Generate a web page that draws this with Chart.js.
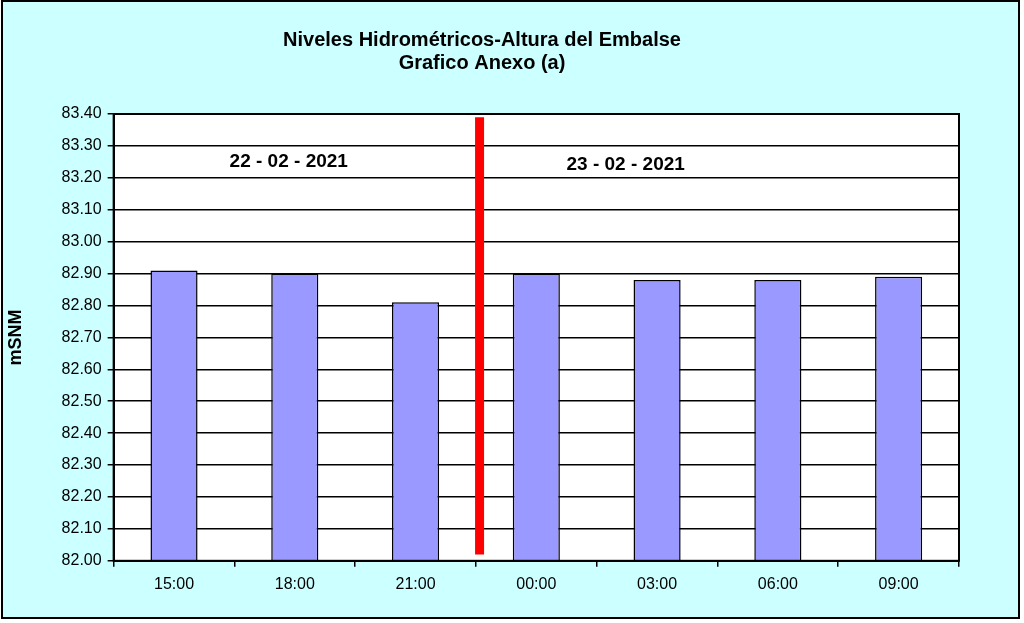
<!DOCTYPE html>
<html>
<head>
<meta charset="utf-8">
<script src="https://cdn.jsdelivr.net/npm/chart.js@4/dist/chart.umd.min.js"></script>
<style>
  body { margin: 0; background: #fff; }
  #box { position: absolute; left: 1px; top: 0; width: 1015px; height: 615px; border: 2px solid #000; background: #ccffff; }
  canvas { display: block; }
</style>
</head>
<body>
<div id="box"><canvas id="myChart" width="1015" height="615"></canvas></div>
<script>
let horas = ["15:00", "18:00", "21:00", "00:00", "03:00", "06:00", "09:00"];
let niveles = [82.91, 82.90, 82.81, 82.90, 82.88, 82.88, 82.89];
let fechas = ["22 - 02 - 2021", "23 - 02 - 2021"];
// where each date label sits, in chart values (category index, level)
let fechaPosX = [0.95, 3.74];
let fechaPosY = [83.25, 83.24];
let corte = 2.53; // red line between 21:00 and 00:00
let corteDesde = 83.39, corteHasta = 82.02;

let fuente = 'Arial, "Liberation Sans", sans-serif';

let marco = {
  id: 'marco',
  beforeDraw(chart) {
    let a = chart.chartArea, ctx = chart.ctx;
    ctx.save();
    ctx.fillStyle = '#fff';
    ctx.fillRect(a.left, a.top, a.right - a.left, a.bottom - a.top);
    ctx.restore();
  },
  afterDraw(chart) {
    let a = chart.chartArea, ctx = chart.ctx;
    let x = chart.scales.x, y = chart.scales.y;
    ctx.save();
    ctx.strokeStyle = '#000';
    ctx.lineWidth = 2;
    ctx.strokeRect(a.left, a.top, a.right - a.left, a.bottom - a.top);

    ctx.strokeStyle = '#ff0000';
    ctx.lineWidth = 9;
    ctx.beginPath();
    ctx.moveTo(x.getPixelForValue(corte), y.getPixelForValue(corteDesde));
    ctx.lineTo(x.getPixelForValue(corte), y.getPixelForValue(corteHasta));
    ctx.stroke();

    ctx.fillStyle = '#000';
    ctx.font = 'bold 19px ' + fuente;
    ctx.textAlign = 'center';
    ctx.textBaseline = 'middle';
    for (let i = 0; i < fechas.length; i++) {
      ctx.fillText(fechas[i], x.getPixelForValue(fechaPosX[i]), y.getPixelForValue(fechaPosY[i]));
    }
    ctx.restore();
  }
};

let ctx = document.getElementById("myChart").getContext('2d');
/*global Chart*/
let chart = new Chart(ctx, {
  type: 'bar',
  data: {
    labels: horas,
    datasets: [{
      data: niveles,
      backgroundColor: '#9999ff',
      borderColor: '#000',
      borderWidth: 1.5,
      borderSkipped: 'bottom',
      categoryPercentage: 1,
      barPercentage: 0.39
    }]
  },
  options: {
    responsive: false,
    animation: false,
    layout: { padding: { left: 2, right: 59, top: 0, bottom: 15 } },
    plugins: {
      legend: { display: false },
      tooltip: { enabled: false },
      title: {
        display: true,
        text: ["Niveles Hidrométricos-Altura del Embalse", "Grafico Anexo (a)"],
        color: '#000',
        font: { family: fuente, size: 20, weight: 'bold', lineHeight: 1.15 },
        padding: { top: 27, bottom: 39 }
      }
    },
    scales: {
      x: {
        grid: { display: true, drawOnChartArea: false, drawTicks: true, tickLength: 6, offset: true, color: '#000', lineWidth: 1.5 },
        border: { color: '#000', width: 2 },
        ticks: { color: '#000', font: { family: fuente, size: 16 }, padding: 8, maxRotation: 0 }
      },
      y: {
        min: 82.0,
        max: 83.4,
        grid: { color: '#000', lineWidth: 1.5, drawTicks: true, tickLength: 6 },
        border: { color: '#000', width: 2 },
        ticks: {
          stepSize: 0.1,
          color: '#000',
          padding: 6,
          font: { family: fuente, size: 16 },
          callback: v => v.toFixed(2)
        },
        title: {
          display: true,
          text: 'mSNM',
          color: '#000',
          font: { family: fuente, size: 18, weight: 'bold' },
          padding: { top: 0, bottom: 29 }
        }
      }
    }
  },
  plugins: [marco]
});
</script>
</body>
</html>
